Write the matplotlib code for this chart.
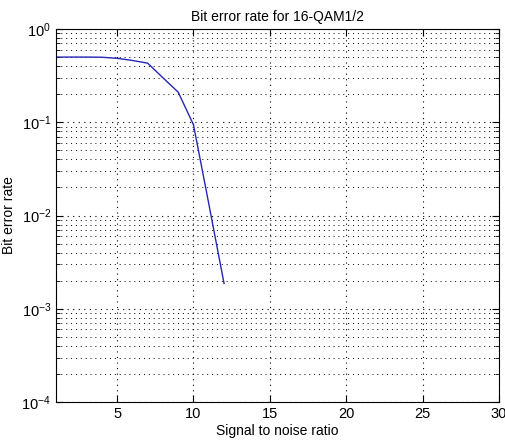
import numpy as np
import matplotlib.pyplot as plt
from matplotlib.ticker import LogLocator, NullFormatter, MultipleLocator

plt.rcParams['font.family'] = ['Liberation Sans', 'DejaVu Sans']

# SNR values and the measured bit error rate
snr = [1, 2, 3, 4, 5, 6, 7, 8, 9, 10, 11, 12]
ber = [0.5, 0.5, 0.5, 0.498, 0.485, 0.46, 0.43, 0.30, 0.21, 0.094, 0.0134, 0.00187]

fig = plt.figure(figsize=(5.05, 4.43), dpi=100)
ax = fig.add_axes([56 / 505, 1 - 402 / 443, 443 / 505, 373 / 443])

ax.semilogy(snr, ber, color='#2626b8', linewidth=1.0)

ax.set_xlim(1, 30)
ax.set_ylim(1e-4, 1)
ax.xaxis.set_major_locator(MultipleLocator(5))
ax.yaxis.set_major_locator(LogLocator(base=10, numticks=10))
ax.yaxis.set_minor_locator(LogLocator(base=10, subs=np.arange(2, 10), numticks=10))
ax.yaxis.set_minor_formatter(NullFormatter())

# matlab style: dotted grid, ticks inside on every side
ax.grid(True, which='major', axis='both', linestyle=(0, (1, 4)), color='k', linewidth=0.8)
ax.grid(True, which='minor', axis='y', linestyle=(0, (1, 4)), color='k', linewidth=0.7)
ax.tick_params(which='both', direction='in', top=True, right=True, labelsize=10.5)
ax.tick_params(which='major', length=5)
ax.tick_params(which='minor', length=3)
for s in ax.spines.values():
    s.set_linewidth(0.8)

ax.set_title('Bit error rate for 16-QAM1/2', fontsize=10, pad=6)
ax.set_xlabel('Signal to noise ratio', fontsize=10, labelpad=2)
ax.set_ylabel('Bit error rate', fontsize=10, labelpad=4)

fig.savefig('out.png', dpi=100)
